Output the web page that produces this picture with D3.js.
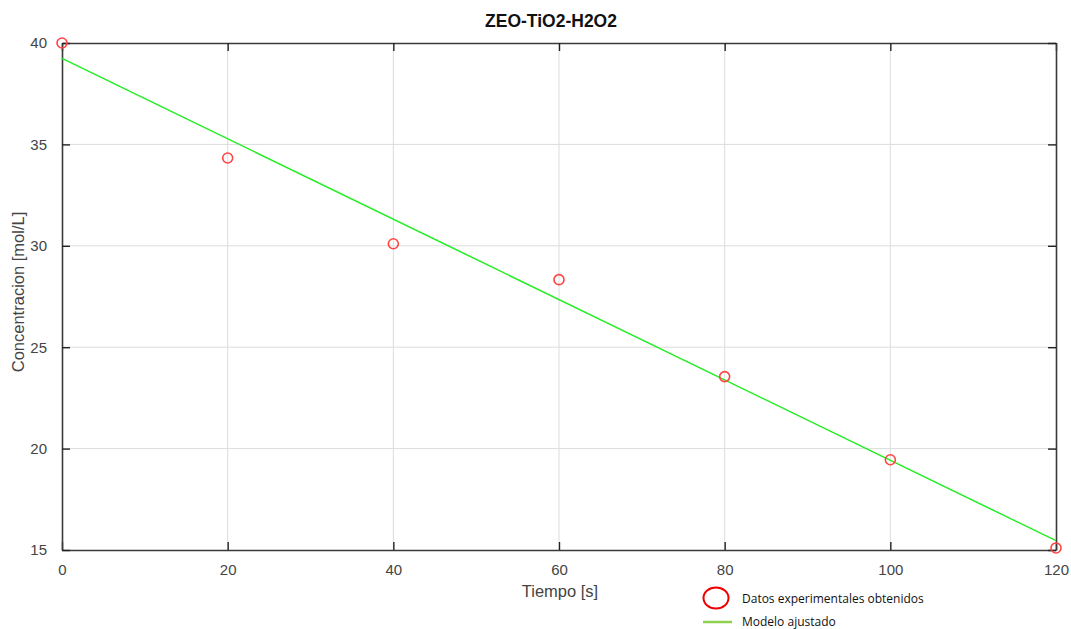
<!DOCTYPE html>
<html>
<head>
<meta charset="utf-8">
<script src="https://cdn.jsdelivr.net/npm/d3@7"></script>
<style>
  html, body { margin: 0; padding: 0; background: #fff; }
  svg { display: block; }
</style>
</head>
<body>
<svg id="chart" width="1071" height="629"></svg>
<script>
// Experimental measurements
const tiempo = [0, 20, 40, 60, 80, 100, 120];
const concentracion = [40.0, 34.33, 30.1, 28.33, 23.55, 19.45, 15.1];

// Fitted linear model evaluated at the ends of the time range
const modeloTiempo = [0, 120];
const modeloConc = [39.24, 15.46];

const xTicks = [0, 20, 40, 60, 80, 100, 120];
const yTicks = [15, 20, 25, 30, 35, 40];

const titulo = "ZEO-TiO2-H2O2";
const etiquetaX = "Tiempo [s]";
const etiquetaY = "Concentracion [mol/L]";
const leyenda = ["Datos experimentales obtenidos", "Modelo ajustado"];

const svg = d3.select("#chart");
const plotLeft = 62, plotRight = 1056, plotTop = 43, plotBottom = 550;

const x = d3.scaleLinear().domain([0, 120]).range([plotLeft, plotRight]);
const y = d3.scaleLinear().domain([15, 40]).range([plotBottom, plotTop]);

const tickFont = "'Liberation Sans', Arial, sans-serif";

// grid
const grid = svg.append("g");
grid.selectAll("line.vx").data(xTicks.slice(1, -1)).join("line")
  .attr("x1", d => x(d)).attr("x2", d => x(d))
  .attr("y1", plotTop).attr("y2", plotBottom)
  .attr("stroke", "#dcdcdc").attr("stroke-width", 1);
grid.selectAll("line.hy").data(yTicks.slice(1, -1)).join("line")
  .attr("x1", plotLeft).attr("x2", plotRight)
  .attr("y1", d => y(d)).attr("y2", d => y(d))
  .attr("stroke", "#dcdcdc").attr("stroke-width", 1);

// axes with inward ticks on all four sides
const axB = d3.axisBottom(x).tickValues(xTicks).tickSizeInner(-8).tickSizeOuter(0).tickPadding(14);
const axT = d3.axisTop(x).tickValues(xTicks).tickSizeInner(-8).tickSizeOuter(0).tickFormat("");
const axL = d3.axisLeft(y).tickValues(yTicks).tickSizeInner(-8).tickSizeOuter(0).tickPadding(15);
const axR = d3.axisRight(y).tickValues(yTicks).tickSizeInner(-8).tickSizeOuter(0).tickFormat("");

function styleAxis(g) {
  g.select(".domain").attr("stroke", "#3a3a3a").attr("stroke-width", 1.6);
  g.selectAll(".tick line").attr("stroke", "#222").attr("stroke-width", 1.4);
  g.selectAll(".tick text").attr("fill", "#444").attr("font-size", 15)
    .attr("font-family", tickFont);
}
svg.append("g").attr("transform", `translate(0,${plotBottom})`).call(axB).call(styleAxis);
svg.append("g").attr("transform", `translate(0,${plotTop})`).call(axT).call(styleAxis);
svg.append("g").attr("transform", `translate(${plotLeft},0)`).call(axL).call(styleAxis);
svg.append("g").attr("transform", `translate(${plotRight},0)`).call(axR).call(styleAxis);

// fitted model line
const line = d3.line().x(d => x(d[0])).y(d => y(d[1]));
svg.append("path")
  .datum(modeloTiempo.map((t, i) => [t, modeloConc[i]]))
  .attr("d", line)
  .attr("fill", "none")
  .attr("stroke", "#22ee22")
  .attr("stroke-width", 1.5);

// experimental points
svg.append("g").selectAll("circle").data(tiempo.map((t, i) => [t, concentracion[i]])).join("circle")
  .attr("cx", d => x(d[0])).attr("cy", d => y(d[1]))
  .attr("r", 5)
  .attr("fill", "none")
  .attr("stroke", "#ff4444")
  .attr("stroke-width", 1.6);

// title and axis labels
svg.append("text").attr("x", 551).attr("y", 27).attr("text-anchor", "middle")
  .attr("font-family", tickFont).attr("font-weight", "bold").attr("font-size", 17.5)
  .attr("fill", "#111").text(titulo);
svg.append("text").attr("x", 560).attr("y", 597).attr("text-anchor", "middle")
  .attr("font-family", tickFont).attr("font-size", 16.5).attr("fill", "#444").text(etiquetaX);
svg.append("text").attr("transform", "translate(24,292) rotate(-90)").attr("text-anchor", "middle")
  .attr("font-family", tickFont).attr("font-size", 16.5).attr("fill", "#444").text(etiquetaY);

// legend
const lg = svg.append("g");
lg.append("ellipse").attr("cx", 716).attr("cy", 598).attr("rx", 12.5).attr("ry", 10.5)
  .attr("fill", "none").attr("stroke", "#ee0000").attr("stroke-width", 2);
lg.append("line").attr("x1", 703).attr("x2", 732).attr("y1", 622).attr("y2", 622)
  .attr("stroke", "#8fd14f").attr("stroke-width", 2.5);
lg.append("text").attr("x", 742).attr("y", 603).attr("font-family", "'Open Sans', 'Noto Sans', sans-serif")
  .attr("font-size", 12).attr("fill", "#111").text(leyenda[0]);
lg.append("text").attr("x", 742).attr("y", 626).attr("font-family", "'Open Sans', 'Noto Sans', sans-serif")
  .attr("font-size", 12).attr("fill", "#111").text(leyenda[1]);
</script>
</body>
</html>
